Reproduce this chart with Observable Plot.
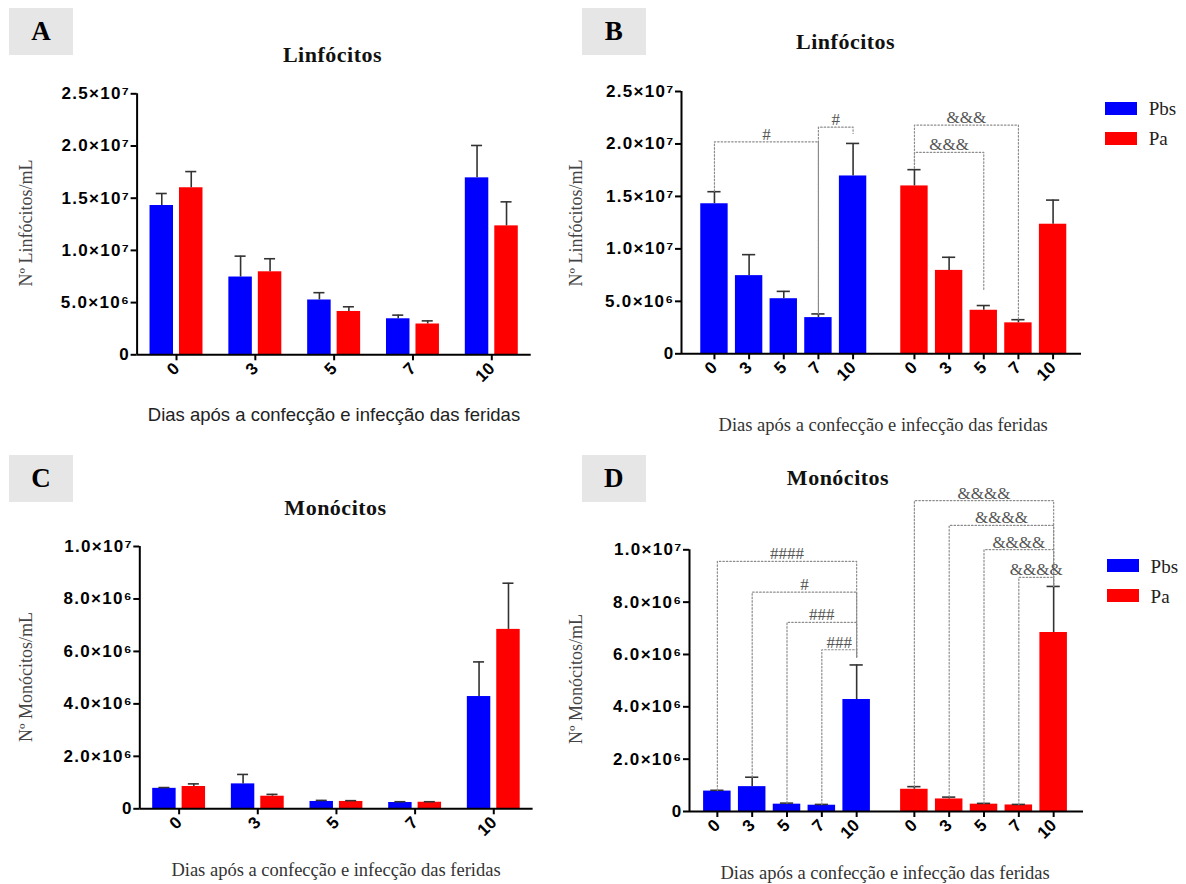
<!DOCTYPE html>
<html>
<head>
<meta charset="utf-8">
<script src="https://cdn.jsdelivr.net/npm/d3@7"></script>
<script src="https://cdn.jsdelivr.net/npm/@observablehq/plot@0.6"></script>
<style>
  body { margin: 0; background: #fff; }
  #root { position: relative; width: 1186px; height: 884px; overflow: hidden; background: #fff; }
  .panel { position: absolute; }
  .panel svg { overflow: visible; }
  .panel svg g[aria-label*="axis"] * { stroke-width: 2px; }
  .panel svg g[aria-label="y-axis tick label"] text { letter-spacing: 1.3px; }
  .lbl { position: absolute; white-space: nowrap; transform: translate(-50%, -50%); line-height: 1; }
  .box { position: absolute; background: #e6e6e6; display: flex; align-items: center; justify-content: center;
         font-family: "Liberation Serif", "Times New Roman", serif; font-weight: bold; font-size: 27px; color: #000; }
  .title { font-family: "Liberation Serif", "Times New Roman", serif; font-weight: bold; font-size: 22px; letter-spacing: 0.5px; color: #111; }
  .ylab { font-family: "Liberation Serif", "Times New Roman", serif; font-size: 18px; color: #444; transform: translate(-50%, -50%) rotate(-90deg); }
  .xlab-sans { font-family: "Liberation Sans", Arial, sans-serif; font-size: 18.5px; color: #222; }
  .xlab-serif { font-family: "Liberation Serif", "Times New Roman", serif; font-size: 18.5px; color: #333; }
  .sw { position: absolute; width: 32px; height: 13px; }
  .legtxt { position: absolute; font-family: "Liberation Serif", "Times New Roman", serif; font-size: 19px; color: #222; transform: translateY(-50%); line-height: 1; }
</style>
</head>
<body>
<div id="root"></div>
<script>
// ---------- data ----------
const days = ["0", "3", "5", "7", "10"];
const dayIndex = [0, 1, 2, 3, 4];
const groups = ["Pbs", "Pa"];
const groupColors = ["#0000ff", "#ff0000"];

// Linfócitos (mean and SEM, cells/mL)
const linfPbs    = [1.43e7, 0.745e7, 0.525e7, 0.345e7, 1.695e7];
const linfPbsErr = [0.115e7, 0.20e7, 0.07e7, 0.035e7, 0.31e7];
const linfPa     = [1.60e7, 0.795e7, 0.415e7, 0.295e7, 1.235e7];
const linfPaErr  = [0.155e7, 0.125e7, 0.045e7, 0.03e7, 0.23e7];

// Monócitos (mean and SEM, cells/mL)
const monoPbs    = [0.78e6, 0.95e6, 0.28e6, 0.24e6, 4.28e6];
const monoPbsErr = [0.03e6, 0.36e6, 0.04e6, 0.03e6, 1.32e6];
const monoPa     = [0.85e6, 0.48e6, 0.28e6, 0.25e6, 6.84e6];
const monoPaErr  = [0.10e6, 0.07e6, 0.03e6, 0.02e6, 1.76e6];

// y ticks and labels
const yTicksLinf = [0, 5e6, 1e7, 1.5e7, 2e7, 2.5e7];
const yTickLabelsLinf = ["0", "5.0×10⁶", "1.0×10⁷", "1.5×10⁷", "2.0×10⁷", "2.5×10⁷"];
const yTicksMono = [0, 2e6, 4e6, 6e6, 8e6, 1e7];
const yTickLabelsMono = ["0", "2.0×10⁶", "4.0×10⁶", "6.0×10⁶", "8.0×10⁶", "1.0×10⁷"];

// significance brackets (panel B)
const linfBrackets = [
  {group: "Pbs", from: "0", to: "7",  level: 2.02e7, fromEnd: 1.55e7, toEnd: 0.38e7, label: "#"},
  {group: "Pbs", from: "7", to: "10", level: 2.16e7, fromEnd: 0.38e7, toEnd: 2.10e7, label: "#"},
  {group: "Pa",  from: "0", to: "7",  level: 2.18e7, fromEnd: 1.77e7, toEnd: 0.33e7, label: "&&&"},
  {group: "Pa",  from: "0", to: "5",  level: 1.92e7, fromEnd: 1.77e7, toEnd: 0.60e7, label: "&&&"}
];
// significance brackets (panel D)
const monoBrackets = [
  {group: "Pbs", from: "0", to: "10", level: 9.56e6,  fromEnd: 0.81e6, toEnd: 5.9e6, label: "####"},
  {group: "Pbs", from: "3", to: "10", level: 8.38e6,  fromEnd: 1.31e6, toEnd: 5.9e6, label: "#"},
  {group: "Pbs", from: "5", to: "10", level: 7.23e6,  fromEnd: 0.32e6, toEnd: 5.9e6, label: "###"},
  {group: "Pbs", from: "7", to: "10", level: 6.18e6,  fromEnd: 0.27e6, toEnd: 5.9e6, label: "###"},
  {group: "Pa",  from: "0", to: "10", level: 11.88e6, fromEnd: 0.95e6, toEnd: 8.6e6, label: "&&&&"},
  {group: "Pa",  from: "3", to: "10", level: 10.93e6, fromEnd: 0.55e6, toEnd: 8.6e6, label: "&&&&"},
  {group: "Pa",  from: "5", to: "10", level: 10.01e6, fromEnd: 0.31e6, toEnd: 8.6e6, label: "&&&&"},
  {group: "Pa",  from: "7", to: "10", level: 8.95e6,  fromEnd: 0.27e6, toEnd: 8.6e6, label: "&&&&"}
];

// ---------- helpers ----------
const SANS = "'Liberation Sans', Arial, sans-serif";
const SERIF = "'Liberation Serif', 'Times New Roman', serif";
const root = document.getElementById("root");

function rows(pbs, pbsErr, pa, paErr) {
  return groups.flatMap((g, gi) => days.map((d, i) => ({
    group: g, gi, day: d, i,
    value: gi === 0 ? pbs[i] : pa[i],
    top: gi === 0 ? pbs[i] + pbsErr[i] : pa[i] + paErr[i]
  })));
}
function tickFmt(ticks, labels) {
  const m = new Map(ticks.map((t, k) => [t, labels[k]]));
  return d => m.get(d) ?? "";
}
const baseStyle = {fontFamily: SANS, fontSize: "17px", fontWeight: "bold", color: "#000", background: "transparent", overflow: "visible"};
const errStyle = {stroke: "#333", strokeWidth: 1.6};

function place(svg, left, top) {
  const div = document.createElement("div");
  div.className = "panel";
  div.style.left = left + "px";
  div.style.top = top + "px";
  div.appendChild(svg);
  root.appendChild(div);
}

// Grouped by day (panels A, C): both groups side by side at each day
function groupedPanel(cfg) {
  const {data, yTicks, yLabels, yMax} = cfg;
  const xDomain = [-0.5, 4.5];
  const side = [-0.187, 0.187], barHalf = 0.149, capHalf = 0.07;   // layout within a day slot
  const cx = d => d.i + side[d.gi];
  return Plot.plot({
    width: cfg.width, height: cfg.height,
    marginLeft: cfg.ml, marginRight: cfg.mr, marginTop: cfg.mt, marginBottom: cfg.mb,
    style: baseStyle,
    x: {domain: xDomain, ticks: dayIndex, tickFormat: i => days[i], label: null, tickSize: 6, tickPadding: 5, tickRotate: -45},
    y: {domain: [0, yMax], ticks: yTicks, tickFormat: tickFmt(yTicks, yLabels), label: null, tickSize: 6, tickPadding: 1},
    color: {domain: groups, range: groupColors},
    marks: [
      Plot.rectY(data, {x1: d => cx(d) - barHalf, x2: d => cx(d) + barHalf, y1: 0, y2: "value", fill: "group"}),
      Plot.ruleX(data, {x: cx, y1: "value", y2: "top", ...errStyle}),
      Plot.ruleY(data, {x1: d => cx(d) - capHalf, x2: d => cx(d) + capHalf, y: "top", ...errStyle}),
      Plot.ruleY([0], {stroke: "#000", strokeWidth: 2}),
      Plot.ruleX([xDomain[0]], {y1: 0, y2: yMax, stroke: "#000", strokeWidth: 2})
    ]
  });
}

// Split by group (panels B, D): Pbs days, then Pa days
function splitPanel(cfg) {
  const {data, brackets, yTicks, yLabels, yMax, xDomain} = cfg;
  const halfBar = 0.395, halfCap = 0.19;
  const pts = brackets.flatMap((b, k) => {
    const a = days.indexOf(b.from), c = days.indexOf(b.to);
    return [
      {k, group: b.group, i: a, y: b.fromEnd},
      {k, group: b.group, i: a, y: b.level},
      {k, group: b.group, i: c, y: b.level},
      {k, group: b.group, i: c, y: b.toEnd}
    ];
  });
  return Plot.plot({
    width: cfg.width, height: cfg.height,
    marginLeft: cfg.ml, marginRight: cfg.mr, marginTop: cfg.mt, marginBottom: cfg.mb,
    style: baseStyle,
    fx: {domain: groups, padding: 0, axis: null, label: null},
    x: {domain: xDomain, ticks: dayIndex, tickFormat: i => days[i], label: null, tickSize: 6, tickPadding: 5, tickRotate: -45},
    y: {domain: [0, yMax], ticks: yTicks, tickFormat: tickFmt(yTicks, yLabels), label: null, tickSize: 6, tickPadding: 1},
    color: {domain: groups, range: groupColors},
    marks: [
      Plot.rectY(data, {fx: "group", x1: d => d.i - halfBar, x2: d => d.i + halfBar, y1: 0, y2: "value", fill: "group"}),
      Plot.ruleX(data, {fx: "group", x: "i", y1: "value", y2: "top", ...errStyle}),
      Plot.ruleY(data, {fx: "group", x1: d => d.i - halfCap, x2: d => d.i + halfCap, y: "top", ...errStyle}),
      Plot.ruleY([0], {stroke: "#000", strokeWidth: 2}),
      Plot.ruleX([{group: groups[0], x: xDomain[0]}], {fx: "group", x: "x", y1: 0, y2: yMax, stroke: "#000", strokeWidth: 2}),
      Plot.line(pts, {fx: "group", x: "i", y: "y", z: "k", stroke: "#8c8c8c", strokeWidth: 1.2, strokeDasharray: "1.5,2"}),
      Plot.text(brackets, {
        fx: "group",
        x: b => (days.indexOf(b.from) + days.indexOf(b.to)) / 2,
        y: "level", text: "label", lineAnchor: "bottom", dy: -2,
        fontFamily: SERIF, fontWeight: "normal", fontSize: 17, fill: "#555"
      })
    ]
  });
}

const linfData = rows(linfPbs, linfPbsErr, linfPa, linfPaErr);
const monoData = rows(monoPbs, monoPbsErr, monoPa, monoPaErr);

place(groupedPanel({data: linfData, yTicks: yTicksLinf, yLabels: yTickLabelsLinf, yMax: 2.5e7,
  width: 593, height: 440, ml: 136.6, mr: 62.3, mt: 93.3, mb: 85.7}), 0, 0);
place(splitPanel({data: linfData, brackets: linfBrackets, yTicks: yTicksLinf, yLabels: yTickLabelsLinf, yMax: 2.5e7,
  xDomain: [-0.951, 4.82], width: 593, height: 440, ml: 87.5, mr: 105, mt: 91, mb: 86.7}), 593, 0);
place(groupedPanel({data: monoData, yTicks: yTicksMono, yLabels: yTickLabelsMono, yMax: 1e7,
  width: 593, height: 444, ml: 139.3, mr: 60.4, mt: 106, mb: 75.7}), 0, 440);
place(splitPanel({data: monoData, brackets: monoBrackets, yTicks: yTicksMono, yLabels: yTickLabelsMono, yMax: 1e7,
  xDomain: [-0.80, 4.857], width: 593, height: 444, ml: 95.1, mr: 103, mt: 109.3, mb: 73}), 593, 440);

// ---------- text & legends ----------
function lbl(cls, text, x, y) {
  const d = document.createElement("div");
  d.className = "lbl " + cls;
  d.textContent = text;
  d.style.left = x + "px";
  d.style.top = y + "px";
  root.appendChild(d);
}
function box(letter, x, y, w, h) {
  const d = document.createElement("div");
  d.className = "box";
  d.textContent = letter;
  Object.assign(d.style, {left: x + "px", top: y + "px", width: w + "px", height: h + "px"});
  root.appendChild(d);
}
function legend(x, y0, y1, tx) {
  groups.forEach((g, k) => {
    const s = document.createElement("div");
    s.className = "sw";
    Object.assign(s.style, {left: x + "px", top: (k ? y1 : y0) + "px", background: groupColors[k]});
    root.appendChild(s);
    const t = document.createElement("div");
    t.className = "legtxt";
    t.textContent = g;
    Object.assign(t.style, {left: tx + "px", top: ((k ? y1 : y0) + 6.5) + "px"});
    root.appendChild(t);
  });
}

box("A", 9.4, 8.3, 63.2, 46.7);
box("B", 581.5, 8.3, 64.4, 46.7);
box("C", 9.4, 455, 63.2, 47.3);
box("D", 581.5, 455, 64.4, 47.3);

lbl("title", "Linfócitos", 332.5, 55);
lbl("title", "Linfócitos", 845.6, 41.7);
lbl("title", "Monócitos", 335.5, 508.3);
lbl("title", "Monócitos", 838, 478.3);

lbl("ylab", "Nº Linfócitos/mL", 26.3, 223);
lbl("ylab", "Nº Linfócitos/mL", 575.8, 223);
lbl("ylab", "Nº Monócitos/mL", 26.3, 677);
lbl("ylab", "Nº Monócitos/mL", 575.8, 679);

lbl("xlab-sans", "Dias após a confecção e infecção das feridas", 334, 415);
lbl("xlab-serif", "Dias após a confecção e infecção das feridas", 883.2, 425);
lbl("xlab-serif", "Dias após a confecção e infecção das feridas", 336, 870);
lbl("xlab-serif", "Dias após a confecção e infecção das feridas", 885, 873.3);

legend(1105, 101.7, 131.7, 1148.7);
legend(1106.9, 559, 589, 1150.6);
</script>
</body>
</html>
